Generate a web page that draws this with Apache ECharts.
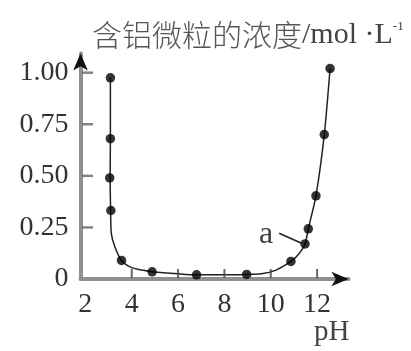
<!DOCTYPE html>
<html>
<head>
<meta charset="utf-8">
<script src="https://cdn.jsdelivr.net/npm/echarts@6/dist/echarts.min.js"></script>
<style>html,body{margin:0;padding:0;background:#fff;}#c{width:411px;height:351px;}</style>
</head>
<body>
<div id="c"></div>
<script>
// Measured dots (pH, concentration mol/L)
const dotPH = [3.08, 3.08, 3.05, 3.1, 3.56, 4.88, 6.8, 8.96, 10.87, 11.48, 11.62, 11.95, 12.31, 12.56];
const dotC  = [0.975, 0.68, 0.49, 0.332, 0.09, 0.035, 0.02, 0.022, 0.085, 0.17, 0.243, 0.403, 0.70, 1.02];
// Curve
const curvePH = [3.08, 3.08, 3.07, 3.09, 3.12, 3.28, 3.56, 4.0, 4.5, 4.9, 6.0, 6.8, 8.0, 8.96, 9.6, 10.2, 10.87, 11.2, 11.48, 11.62, 11.95, 12.31, 12.56];
const curveC  = [0.975, 0.68, 0.49, 0.332, 0.22, 0.154, 0.09, 0.055, 0.042, 0.035, 0.025, 0.02, 0.02, 0.022, 0.025, 0.042, 0.085, 0.12, 0.17, 0.243, 0.403, 0.70, 1.02];
// Axis ticks / labels
const xTickValues = [4, 6, 8, 10, 12];
const xLabelValues = [2, 4, 6, 8, 10, 12];
const yTickValues = [0.25, 0.5, 0.75, 1.0];
const yInterval = 0.25;
const yLabelValues = [0, 0.25, 0.5, 0.75, 1.0];
const yLabelTexts = ['0', '0.25', '0.50', '0.75', '1.00'];
// Annotation "a" leader line (data coords)
const leaderFrom = [10.36, 0.222];
const leaderTo = [11.33, 0.173];

const serif = 'Liberation Serif';
const axisGray = '#8f8f8f';
const X_MIN = 1.79, X_MAX = 13.355, Y_MIN = 0, Y_MAX = 1.093;

const chart = echarts.init(document.getElementById('c'));
chart.setOption({
  animation: false,
  backgroundColor: '#fff',
  title: {
    text: '{cn|含铝微粒的浓度}{u|/mol ·L}{s|-1}',
    left: 92, top: 20, padding: 0,
    textStyle: {
      fontWeight: 'normal',
      rich: {
        cn: { fontFamily: 'Noto Sans CJK SC', fontWeight: 300, fontSize: 30, lineHeight: 30, color: '#555' },
        u: { fontFamily: serif, fontWeight: 'normal', fontSize: 30, lineHeight: 30, color: '#444' },
        s: { fontFamily: serif, fontWeight: 'normal', fontSize: 13, lineHeight: 14, color: '#444', verticalAlign: 'top' }
      }
    }
  },
  grid: { left: 80.5, right: 62.5, top: 53.5, bottom: 72, containLabel: false },
  xAxis: [{
    type: 'value', min: X_MIN, max: X_MAX, splitNumber: 5,
    axisLine: { show: true, onZero: false, lineStyle: { color: axisGray, width: 4 } },
    axisTick: { show: false },
    axisLabel: { show: true, customValues: xLabelValues, margin: 12, fontFamily: serif, fontSize: 28, color: '#333' },
    splitLine: { show: false }
  }, {
    type: 'value', min: X_MIN, max: X_MAX, position: 'bottom',
    axisLine: { show: true, onZero: false, symbol: ['none', 'arrow'], symbolSize: [11, 17], lineStyle: { color: '#111', width: 1, opacity: 0 } },
    axisTick: { show: false }, axisLabel: { show: false }, splitLine: { show: false }
  }],
  yAxis: [{
    type: 'value', min: Y_MIN, max: Y_MAX, interval: yInterval,
    axisLine: { show: true, onZero: false, lineStyle: { color: axisGray, width: 4 } },
    axisTick: { show: false },
    axisLabel: { show: true, margin: 12, fontFamily: serif, fontSize: 28, color: '#333',
      formatter: v => { const i = yLabelValues.findIndex(t => Math.abs(t - v) < 1e-9); return i < 0 ? '' : yLabelTexts[i]; } },
    splitLine: { show: false }
  }, {
    type: 'value', min: Y_MIN, max: Y_MAX, position: 'left',
    axisLine: { show: true, onZero: false, symbol: ['none', 'arrow'], symbolSize: [11, 17], lineStyle: { color: '#111', width: 1, opacity: 0 } },
    axisTick: { show: false }, axisLabel: { show: false }, splitLine: { show: false }
  }],
  series: [{
    // y-axis tick dashes, placed on the scale at each tick value
    type: 'scatter', name: 'yTicks', silent: true, clip: false,
    data: yTickValues.map(v => [X_MIN, v]),
    symbol: 'rect', symbolSize: [11, 2.5], symbolOffset: [7, 0],
    itemStyle: { color: '#666' }, z: 5
  }, {
    // x-axis tick marks
    type: 'scatter', name: 'xTicks', silent: true, clip: false,
    data: xTickValues.map(v => [v, Y_MIN]),
    symbol: 'rect', symbolSize: [2, 9], symbolOffset: [0, -5.5],
    itemStyle: { color: '#444' }, z: 5
  }, {
    type: 'line',
    data: curvePH.map((x, i) => [x, curveC[i]]),
    smooth: 0.25,
    showSymbol: false,
    lineStyle: { color: '#222', width: 1.5 },
    z: 3,
    markLine: {
      silent: true, symbol: ['none', 'none'], animation: false,
      lineStyle: { color: '#222', width: 1.5, type: 'solid' },
      label: { show: false },
      data: [[{ coord: leaderFrom }, { coord: leaderTo }]]
    }
  }, {
    type: 'scatter',
    data: dotPH.map((x, i) => [x, dotC[i]]),
    symbolSize: 9.5,
    itemStyle: { color: '#000' },
    z: 4
  }],
  graphic: [
    { type: 'text', left: 259, top: 219, style: { text: 'a', font: '32px "Liberation Serif"', fill: '#444' } },
    { type: 'text', left: 314, top: 318, style: { text: 'pH', font: '29px "Liberation Serif"', fill: '#444' } }
  ]
});
</script>
</body>
</html>
